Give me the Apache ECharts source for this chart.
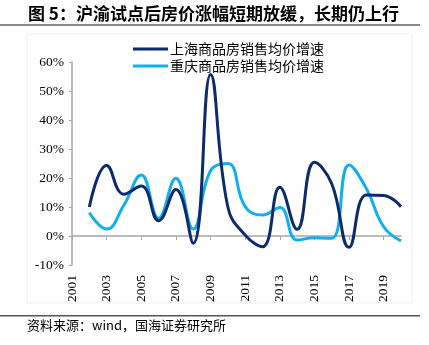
<!DOCTYPE html>
<html>
<head>
<meta charset="utf-8">
<script src="https://cdn.jsdelivr.net/npm/echarts@6/dist/echarts.min.js"></script>
<style>
html,body{margin:0;padding:0;background:#fff;}
#c{width:429px;height:345px;}
</style>
</head>
<body>
<div id="c"></div>
<script>
var years = ['2001','2002','2003','2004','2005','2006','2007','2008','2009','2010','2011','2012','2013','2014','2015','2016','2017','2018','2019','2020'];
var shanghai = [null, 10, 24.3, 14.4, 17.2, 5.3, 16, -2.5, 55.7, 10, 0.3, -3.7, 16.8, 2.3, 25.4, 18, -3.9, 14.1, 14, 10.1];
var chongqing = [null, 8, 2.4, 10.7, 21, 6.1, 19.9, 2.4, 22.5, 25, 10.1, 7.2, 9.8, -1.4, -0.6, -0.8, 24.5, 16.4, 3.2, -1.7];
var yTicks = [-10, 0, 10, 20, 30, 40, 50, 60];
var titleText = '图 5：沪渝试点后房价涨幅短期放缓，长期仍上行';
var sourceText = '资料来源：wind，国海证券研究所';
var nameSH = '上海商品房销售均价增速';
var nameCQ = '重庆商品房销售均价增速';

var chart = echarts.init(document.getElementById('c'), null, {renderer: 'canvas'});
var serif = '"Liberation Serif", "Times New Roman", serif';
var cjk = '"Noto Sans CJK SC", sans-serif';
chart.setOption({
  animation: false,
  backgroundColor: '#fff',
  graphic: [
    {type: 'text', left: 28, top: 5, style: {text: titleText, font: 'bold 17px "Noto Sans CJK SC", sans-serif', fill: '#000'}},
    {type: 'rect', shape: {x: 0, y: 24, width: 420, height: 2}, style: {fill: '#8c8c8c'}},
    {type: 'rect', shape: {x: 27, y: 34, width: 385, height: 269}, style: {fill: 'none', stroke: '#f0f0f0', lineWidth: 1}},
    {type: 'rect', shape: {x: 0, y: 315, width: 420, height: 1.5}, style: {fill: '#555'}},
    {type: 'text', left: 27, top: 319, style: {text: sourceText, font: '13px "Noto Sans CJK SC", sans-serif', fill: '#000'}}
  ],
  legend: {
    orient: 'vertical',
    left: 128,
    top: 37,
    itemWidth: 35,
    itemHeight: 3,
    itemGap: 3,
    icon: 'rect',
    textStyle: {fontFamily: cjk, fontSize: 14, color: '#000', padding: [0, 0, 0, -3]},
    data: [nameSH, nameCQ]
  },
  grid: {left: 72, right: 28, top: 62, bottom: 80, containLabel: false},
  xAxis: [
    {
      type: 'category', data: years, boundaryGap: false, position: 'bottom',
      axisLine: {show: false, onZero: false},
      axisTick: {show: false},
      axisLabel: {rotate: 90, interval: 1, margin: 10, fontFamily: serif, fontSize: 13.5, color: '#000'},
      splitLine: {show: false}
    },
    {
      type: 'category', data: years, boundaryGap: false, position: 'bottom',
      axisLine: {show: true, onZero: true, lineStyle: {color: '#a6a6a6', width: 1.5}},
      axisTick: {show: true, interval: 1, length: 4, inside: false, lineStyle: {color: '#a6a6a6'}},
      axisLabel: {show: false},
      splitLine: {show: false}
    }
  ],
  yAxis: {
    type: 'value', min: -10, max: 60, interval: 10,
    axisLine: {show: true, lineStyle: {color: '#a6a6a6', width: 1.5}},
    axisTick: {show: true, length: 3, lineStyle: {color: '#a6a6a6'}},
    splitLine: {show: false},
    axisLabel: {fontFamily: serif, fontSize: 13.5, color: '#000', margin: 8,
      formatter: function (v) { return yTicks.indexOf(v) >= 0 ? v + '%' : ''; }}
  },
  series: [
    {name: nameSH, type: 'line', xAxisIndex: 0, data: shanghai, smooth: 0.45, symbol: 'none',
     lineStyle: {color: '#0c2a6c', width: 3}, itemStyle: {color: '#0c2a6c'}, z: 3},
    {name: nameCQ, type: 'line', xAxisIndex: 0, data: chongqing, smooth: 0.45, symbol: 'none',
     lineStyle: {color: '#10b0ee', width: 3}, itemStyle: {color: '#10b0ee'}, z: 2}
  ]
});
</script>
</body>
</html>
